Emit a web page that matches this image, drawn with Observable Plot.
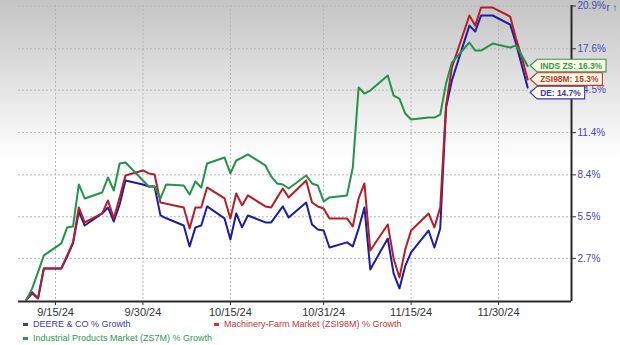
<!DOCTYPE html>
<html><head><meta charset="utf-8">
<script src="https://cdn.jsdelivr.net/npm/d3@7"></script>
<script src="https://cdn.jsdelivr.net/npm/@observablehq/plot@0.6"></script>
<style>
html,body{margin:0;padding:0;}
body{width:620px;height:345px;overflow:hidden;position:relative;background:linear-gradient(to bottom,#c4c4c4 0px,#ffffff 160px) no-repeat #fff;font-family:"Liberation Sans",Arial,sans-serif;}
#chart{position:absolute;left:0;top:0;}
.leg{position:absolute;font-size:9px;line-height:12px;white-space:nowrap;}
.leg i{position:absolute;left:-10px;top:5px;width:5px;height:2.5px;}
</style></head><body>
<div id="chart"></div>
<div id="legend"></div>
<script>
// ---- data ----
const dates = [
  "2024-09-10","2024-09-11","2024-09-12","2024-09-13",
  "2024-09-16","2024-09-17","2024-09-18","2024-09-19","2024-09-20",
  "2024-09-23","2024-09-24","2024-09-25","2024-09-26","2024-09-27",
  "2024-09-30","2024-10-01","2024-10-02","2024-10-03","2024-10-04",
  "2024-10-07","2024-10-08","2024-10-09","2024-10-10","2024-10-11",
  "2024-10-14","2024-10-15","2024-10-16","2024-10-17","2024-10-18",
  "2024-10-21","2024-10-22","2024-10-23","2024-10-24","2024-10-25",
  "2024-10-28","2024-10-29","2024-10-30","2024-10-31","2024-11-01",
  "2024-11-04","2024-11-05","2024-11-06","2024-11-07","2024-11-08",
  "2024-11-11","2024-11-12","2024-11-13","2024-11-14","2024-11-15",
  "2024-11-18","2024-11-19","2024-11-20","2024-11-21","2024-11-22",
  "2024-11-25","2024-11-26","2024-11-27","2024-11-29",
  "2024-12-02","2024-12-03","2024-12-04","2024-12-05"
];
const deereGrowth = [
  0, 0.47, 0.08, 2.04,
  2.04, 2.83, 3.7, 5.86, 4.91,
  5.73, 6.14, 5.18, 6.34, 8.01,
  7.73, 7.59, 7.59, 5.6, 5.4,
  4.91, 3.5, 4.78, 4.91, 6.21,
  5.39, 3.97, 5.73, 4.78, 5.59,
  5.12, 5.12, 5.66, 6.21, 5.45,
  6.48, 4.98, 4.64, 4.57, 3.43,
  3.77, 3.5, 4.7, 6.14, 1.97,
  4.03, 1.71, 0.73, 2.2, 3.1,
  4.57, 3.43, 4.71, 13.22, 15.22,
  19.38, 18.92, 20.16, 20.16,
  19.46, 18.0, 16.34, 14.7
];
const machineryGrowth = [
  0, 0.4, 0.08, 2.04,
  2.04, 2.9, 3.77, 6.14, 5.12,
  5.73, 6.62, 5.39, 6.83, 8.36,
  8.71, 8.5, 8.43, 6.48, 6.4,
  6.14, 4.71, 6.14, 6.14, 7.52,
  6.76, 5.39, 7.1, 6.28, 6.97,
  6.21, 6.14, 6.8, 7.45, 6.83,
  8.01, 6.48, 6.21, 6.07, 5.39,
  5.39, 4.84, 6.76, 7.8, 3.23,
  4.98, 2.7, 1.44, 3.3, 4.57,
  5.73, 4.78, 6.14, 13.37, 16.19,
  20.16, 19.38, 20.78, 20.78,
  20.08, 18.38, 16.94, 15.3
];
const industrialGrowth = [
  0, 0.73, 1.8, 2.9,
  3.7, 4.78, 4.84, 7.73, 6.76,
  7.17, 8.22, 7.31, 9.2, 9.27,
  8.01, 7.59, 7.59, 6.76, 7.73,
  7.66, 7.03, 7.94, 7.52, 9.2,
  9.62, 8.5, 9.41, 9.62, 9.84,
  9.06, 8.29, 7.8, 7.73, 7.45,
  8.36, 7.8, 7.66, 6.55, 6.83,
  6.97, 8.92, 14.7, 14.25, 14.47,
  15.59, 14.1, 13.88, 12.78, 12.35,
  12.49, 12.49, 12.71, 15.0, 16.56,
  18.08, 17.47, 17.47, 18.0,
  17.7, 17.85, 17.09, 16.3
];
const seriesNames = ["DEERE & CO % Growth", "Machinery-Farm Market (ZSI98M) % Growth", "Industrial Products Market (ZS7M) % Growth"];
const tagNames = ["DE", "ZSI98M", "INDS ZS"];
const yTickLabels = [2.7, 5.5, 8.4, 11.4, 14.5, 17.6, 20.9];
const xTickLabels = ["2024-09-15", "2024-09-30", "2024-10-15", "2024-10-31", "2024-11-15", "2024-11-30"];

// ---- styling / helpers ----
const lineColors = ["#1c1ca6", "#b61d27", "#23934a"];
const textColors = ["#3a3ab4", "#c23636", "#2f9a52"];
const parse = s => new Date(s + "T00:00:00Z");
const toRatio = g => 1 + g / 100;
const series = [deereGrowth, machineryGrowth, industrialGrowth].map((values, i) => ({
  name: seriesNames[i], tag: tagNames[i], values, line: lineColors[i], text: textColors[i],
  rows: values.map((g, j) => ({date: parse(dates[j]), r: toRatio(g)}))
}));
const xTicks = xTickLabels.map(parse);
const yTicks = yTickLabels.map(toRatio);
const xDomain = [new Date(Date.UTC(2024, 8, 8, 15, 36)), new Date(Date.UTC(2024, 11, 12, 12, 30))];
const yDomain = [0.9988, 1.2094];

function tagMark(index, scales) {
  const g = d3.create("svg:g").attr("text-anchor", "start");
  const items = series.map(s => ({
    s,
    x: scales.x(parse(dates[dates.length - 1])) + 3,
    y: scales.y(toRatio(s.values[s.values.length - 1]))
  })).sort((a, b) => a.y - b.y);
  for (let i = 1; i < items.length; i++) {
    if (items[i].y - items[i - 1].y < 13.5) items[i].y = items[i - 1].y + 13.5;
  }
  items.forEach(it => {
    const t = g.append("g").attr("class", "tag").attr("transform", `translate(${it.x},${it.y})`);
    t.append("path").attr("fill", "#fdfbe2").attr("stroke", it.s.text).attr("stroke-width", 1.1);
    t.append("text").attr("x", 10).attr("y", 3).attr("text-anchor", "start")
      .attr("font-weight", "bold").attr("font-size", 8.4)
      .attr("fill", it.s.text)
      .text(`${it.s.tag}: ${it.s.values[it.s.values.length - 1].toFixed(1)}%`);
  });
  return g.node();
}

const fmtDate = d => `${d.getUTCMonth() + 1}/${d.getUTCDate()}/${String(d.getUTCFullYear()).slice(2)}`;
const fmtPct = d => ((d - 1) * 100).toFixed(1) + "%";

const plot = Plot.plot({
  width: 620, height: 318,
  marginLeft: 18, marginRight: 49, marginTop: 5, marginBottom: 17,
  style: {background: "transparent", fontFamily: "Liberation Sans, Arial, sans-serif", overflow: "visible"},
  x: {type: "utc", domain: xDomain},
  y: {type: "log", domain: yDomain},
  marks: [
    Plot.gridX(xTicks, {stroke: "#b4b4b4", strokeOpacity: 1, strokeDasharray: "2,2"}),
    Plot.gridY(yTicks, {stroke: "#b4b4b4", strokeOpacity: 1, strokeDasharray: "2,2"}),
    ...series.map(s => Plot.line(s.rows, {x: "date", y: "r", stroke: s.line, strokeWidth: 2})),
    Plot.ruleY([yDomain[0]], {stroke: "#2a2a2a", strokeWidth: 2}),
    Plot.ruleX([xDomain[1]], {stroke: "#2a2a2a", strokeWidth: 2}),
    Plot.axisX(xTicks, {tickSize: 4, tickPadding: 3, tickFormat: fmtDate, fontSize: 11, fill: "#333", stroke: "#333"}),
    Plot.axisY(yTicks, {anchor: "right", tickSize: 4, tickPadding: 2, tickFormat: fmtPct, fontSize: 10, fill: "#4646b4", stroke: "#333"}),
    tagMark
  ]
});
document.getElementById("chart").appendChild(plot);

// size tag boxes to their text
d3.select(plot).selectAll(".tag").each(function () {
  const sel = d3.select(this);
  const w = sel.select("text").node().getComputedTextLength();
  sel.select("path").attr("d", `M0,0L7,-6.3H${10 + w + 4}V6.3H7Z`);
});

// legend
const legendPos = [[33, 318], [224, 318], [33, 332]];
const legend = document.getElementById("legend");
series.forEach((s, i) => {
  const d = document.createElement("div");
  d.className = "leg";
  d.style.left = legendPos[i][0] + "px";
  d.style.top = legendPos[i][1] + "px";
  d.style.color = s.text;
  const m = document.createElement("i");
  m.style.background = s.text;
  d.appendChild(m);
  d.appendChild(document.createTextNode(s.name));
  legend.appendChild(d);
});
</script>
</body></html>
